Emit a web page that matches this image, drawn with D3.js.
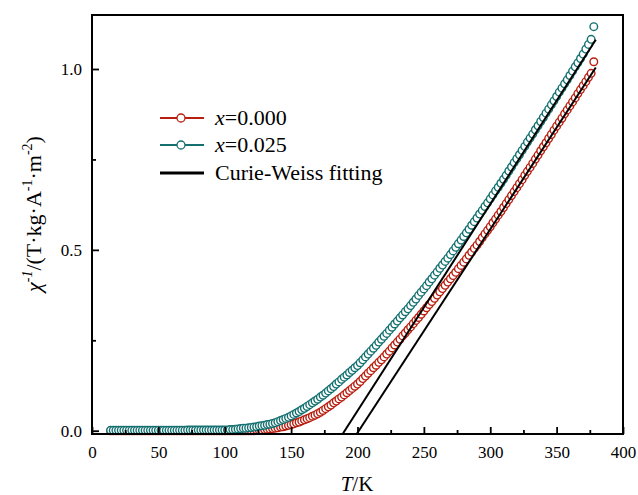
<!DOCTYPE html>
<html><head><meta charset="utf-8">
<script src="https://cdn.jsdelivr.net/npm/d3@7/dist/d3.min.js"></script>
<style>body{margin:0;background:#fff}svg{display:block}text{font-family:"Liberation Serif","Times New Roman",serif;fill:#000}</style>
</head><body><svg id="c" width="638" height="495"></svg>
<script>
// Temperature (K)
const temps = [14,16,18,20,22,24,26,28,30,32,34,36,38,40,42,44,46,48,50,52,54,56,58,60,62,64,66,68,70,72,74,76,78,80,82,84,86,88,90,92,94,96,98,
100,102,104,106,108,110,112,114,116,118,120,122,124,126,128,130,132,134,136,138,140,142,144,146,148,150,152,154,156,158,160,162,164,166,168,170,172,174,176,178,180,182,184,186,188,190,192,194,196,198,
200,202,204,206,208,210,212,214,216,218,220,222,224,226,228,230,232,234,236,238,240,242,244,246,248,250,252,254,256,258,260,262,264,266,268,270,272,274,276,278,280,282,284,286,288,290,292,294,296,298,
300,302,304,306,308,310,312,314,316,318,320,322,324,326,328,330,332,334,336,338,340,342,344,346,348,350,352,354,356,358,360,362,364,366,368,370,372,374,376,378];
// x = 0.000
const chiInv000 = [0,0,0,0,0,0,0,0,0,0,0,0,0,0,0,0,0,0,0,0,0,0,0,0,0,0,0,0,0,0,0,0,0,0,0,0,0,0,0,0,0,0,0,
0,0,0,0,0,0,0,0,0,0,0,0,0.001,0.001,0.002,0.003,0.004,0.005,0.006,0.007,0.008,0.010,0.011,0.013,0.015,0.017,0.019,0.022,0.024,0.027,0.030,0.033,0.036,0.040,0.043,0.047,0.051,0.056,0.061,0.066,0.071,0.077,0.082,0.088,0.093,0.099,0.105,0.111,0.117,0.123,
0.129,0.136,0.144,0.151,0.159,0.166,0.174,0.181,0.189,0.196,0.204,0.212,0.220,0.229,0.237,0.245,0.253,0.262,0.270,0.279,0.287,0.296,0.305,0.313,0.322,0.331,0.340,0.349,0.357,0.366,0.375,0.384,0.393,0.402,0.411,0.420,0.429,0.438,0.448,0.457,0.466,0.475,0.485,0.494,0.504,0.513,0.523,0.534,0.544,0.554,
0.564,0.575,0.585,0.596,0.606,0.617,0.628,0.639,0.650,0.661,0.672,0.683,0.694,0.706,0.717,0.728,0.739,0.751,0.762,0.774,0.785,0.796,0.808,0.819,0.831,0.842,0.853,0.864,0.876,0.887,0.898,0.909,0.920,0.932,0.943,0.954,0.965,0.977,0.988,1.020];
// x = 0.025
const chiInv025 = [0.001,0.001,0.001,0.001,0.001,0.001,0.001,0.001,0.001,0.001,0.001,0.001,0.001,0.001,0.001,0.001,0.001,0.001,0.001,0.001,0.001,0.001,0.001,0.001,0.001,0.001,0.001,0.001,0.001,0.002,0.002,0.002,0.002,0.002,0.002,0.002,0.002,0.002,0.002,0.002,0.002,0.002,0.002,
0.002,0.002,0.003,0.003,0.004,0.005,0.006,0.007,0.007,0.008,0.009,0.010,0.011,0.013,0.014,0.015,0.017,0.018,0.020,0.022,0.025,0.028,0.031,0.034,0.037,0.041,0.045,0.049,0.053,0.058,0.062,0.067,0.072,0.077,0.082,0.087,0.093,0.098,0.104,0.110,0.116,0.122,0.129,0.135,0.142,0.148,0.154,0.161,0.167,0.174,
0.180,0.188,0.196,0.204,0.212,0.220,0.228,0.236,0.245,0.253,0.261,0.269,0.278,0.286,0.295,0.303,0.312,0.320,0.329,0.337,0.346,0.355,0.364,0.374,0.383,0.392,0.401,0.411,0.420,0.430,0.439,0.449,0.458,0.468,0.477,0.487,0.497,0.507,0.517,0.527,0.537,0.547,0.557,0.568,0.578,0.588,0.599,0.609,0.620,0.630,
0.641,0.652,0.663,0.673,0.684,0.695,0.706,0.718,0.729,0.741,0.752,0.763,0.775,0.786,0.798,0.809,0.820,0.832,0.843,0.855,0.866,0.878,0.889,0.901,0.912,0.924,0.936,0.947,0.959,0.970,0.982,0.994,1.006,1.017,1.029,1.041,1.055,1.068,1.082,1.117];
// Curie-Weiss fitting lines (endpoints)
const fit000T = [199.4, 379.5];
const fit000V = [-0.009, 1.004];
const fit025T = [188.8, 379.5];
const fit025V = [-0.009, 1.081];
// ticks
const xMajor = [0,50,100,150,200,250,300,350,400];
const xMinor = [25,75,125,175,225,275,325,375];
const yMajor = [0,0.5,1.0];
const yMinor = [0.25,0.75];
const legendLabels = ["=0.000","=0.025","Curie-Weiss fitting"];

const RED = "#b81f10", TEAL = "#147070";
const L = 92, R = 623, T = 15, B = 434;
const svg = d3.select("#c");
const x = d3.scaleLinear().domain([0,400]).range([L,R]);
const y = d3.scaleLinear().domain([-0.0091,1.1493]).range([B,T]);

svg.append("clipPath").attr("id","pc").append("rect")
  .attr("x",L).attr("y",T).attr("width",R-L).attr("height",B-T);

function series(vals, color){
  const g = svg.append("g");
  g.selectAll("circle").data(temps.map((t,i)=>[t,vals[i]])).join("circle")
    .attr("cx",d=>x(d[0])).attr("cy",d=>y(d[1])).attr("r",3.8)
    .attr("fill","#fff").attr("stroke",color).attr("stroke-width",1.4);
}
series(chiInv000, RED);
series(chiInv025, TEAL);

const line = d3.line().x(d=>x(d[0])).y(d=>y(d[1]));
[[fit000T,fit000V],[fit025T,fit025V]].forEach(([ts,vs])=>{
  svg.append("path").attr("d",line(ts.map((t,i)=>[t,vs[i]])))
    .attr("clip-path","url(#pc)")
    .attr("fill","none").attr("stroke","#000").attr("stroke-width",2);
});

// axes
function styleAxis(g){ g.select(".domain").remove(); g.selectAll(".tick line").attr("stroke","#000").attr("stroke-width",1.8); g.selectAll("text").attr("font-size",17).attr("fill","#000"); }
svg.append("g").attr("transform",`translate(0,${B})`)
  .call(d3.axisBottom(x).tickValues(xMajor).tickSize(-7).tickPadding(12).tickFormat(d3.format("d"))).call(styleAxis);
svg.append("g").attr("transform",`translate(0,${B})`)
  .call(d3.axisBottom(x).tickValues(xMinor).tickSize(-4).tickFormat("")).call(styleAxis);
svg.append("g").attr("transform",`translate(${L},0)`)
  .call(d3.axisLeft(y).tickValues(yMajor).tickSize(-7).tickPadding(10).tickFormat(d3.format(".1f"))).call(styleAxis);
svg.append("g").attr("transform",`translate(${L},0)`)
  .call(d3.axisLeft(y).tickValues(yMinor).tickSize(-4).tickFormat("")).call(styleAxis);

svg.append("rect").attr("x",L).attr("y",T).attr("width",R-L).attr("height",B-T)
  .attr("fill","none").attr("stroke","#000").attr("stroke-width",2);

// axis titles
const xt = svg.append("text").attr("x",357).attr("y",491).attr("text-anchor","middle").attr("font-size",21);
xt.append("tspan").attr("font-style","italic").text("T");
xt.append("tspan").text("/K");

const yt = svg.append("text").attr("transform","translate(41,214) rotate(-90)").attr("text-anchor","middle").attr("font-size",22);
yt.append("tspan").attr("font-style","italic").text("χ");
yt.append("tspan").attr("font-style","italic").attr("font-size",14).attr("dy",-9).text("-1");
yt.append("tspan").attr("dy",9).text("/(T·kg·A");
yt.append("tspan").attr("font-size",14).attr("dy",-9).text("-1");
yt.append("tspan").attr("dy",9).text("·m");
yt.append("tspan").attr("font-size",14).attr("dy",-9).text("-2");
yt.append("tspan").attr("dy",9).text(")");

// legend
const legY = [118,145,173];
const legColors = [RED, TEAL, "#000"];
legY.forEach((ly,i)=>{
  svg.append("line").attr("x1",160).attr("x2",204).attr("y1",ly).attr("y2",ly)
    .attr("stroke",legColors[i]).attr("stroke-width",i===2?3:2);
  if(i<2) svg.append("circle").attr("cx",181).attr("cy",ly).attr("r",4)
    .attr("fill","#fff").attr("stroke",legColors[i]).attr("stroke-width",1.3);
  const t = svg.append("text").attr("x",215).attr("y",ly+7).attr("font-size",22);
  if(i<2) t.append("tspan").attr("font-style","italic").text("x");
  t.append("tspan").text(legendLabels[i]);
});
</script></body></html>
